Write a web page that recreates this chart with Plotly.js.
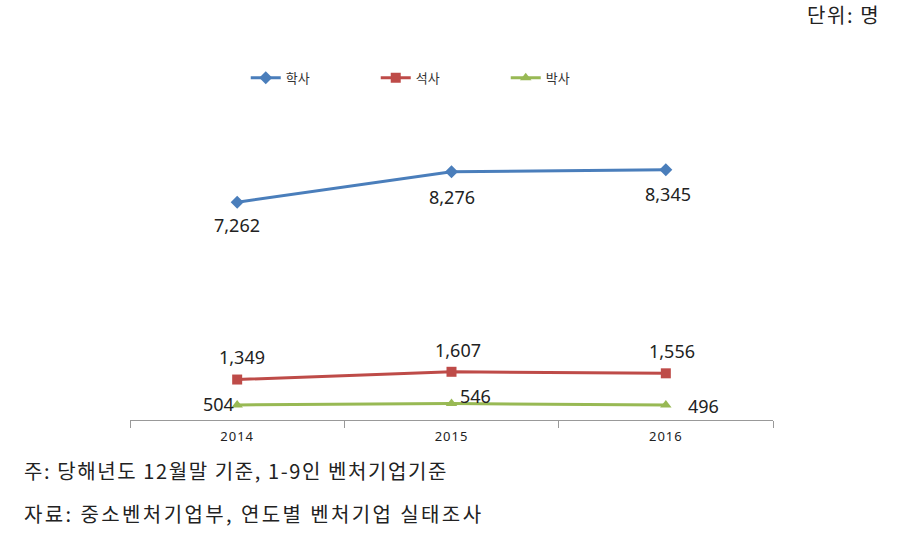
<!DOCTYPE html>
<html>
<head>
<meta charset="utf-8">
<script src="https://cdn.plot.ly/plotly-3.0.1.min.js"></script>
<style>
  html, body { margin: 0; padding: 0; background: #fff; }
  #chart { width: 913px; height: 540px; }
  .xtick text { letter-spacing: 1px; }
</style>
</head>
<body>
<div id="chart"></div>
<script>
const years = ['2014', '2015', '2016'];
const bachelor = [7262, 8276, 8345];
const master = [1349, 1607, 1556];
const doctor = [504, 546, 496];

const fmt = v => v.toLocaleString('en-US');
const labelFont = { family: 'Noto Sans, sans-serif', size: 18, color: '#222' };
const noteFont = { family: 'Noto Sans CJK KR, sans-serif', size: 20, color: '#222' };

const data = [
    {
        x: years, y: bachelor, name: '학사',
        type: 'scatter', mode: 'lines+markers',
        line: { color: '#4A7EBB', width: 3 },
        marker: { symbol: 'diamond', size: 10, color: '#4A7EBB' },
        cliponaxis: false,
    },
    {
        x: years, y: master, name: '석사',
        type: 'scatter', mode: 'lines+markers',
        line: { color: '#BE4B48', width: 3 },
        marker: { symbol: 'square', size: 10, color: '#BE4B48' },
        cliponaxis: false,
    },
    {
        x: years, y: doctor, name: '박사',
        type: 'scatter', mode: 'lines+markers',
        line: { color: '#98B954', width: 3 },
        marker: { symbol: 'triangle-up', size: 10, color: '#98B954' },
        cliponaxis: false,
    },
];

// value labels, placed around each point (x is the category index,
// since year strings would be read as numbers)
function labels(values, spots) {
    return values.map((v, i) => ({
        xref: 'x', yref: 'y', x: i, y: v, text: fmt(v), showarrow: false,
        xanchor: spots[i][0], yanchor: 'middle', xshift: spots[i][1], yshift: spots[i][2],
        font: labelFont,
    }));
}
const valueLabels = [].concat(
    labels(bachelor, [['center', 0, -23], ['center', 0, -25], ['center', 2, -24]]),
    labels(master, [['center', 5, 23], ['center', 6, 22], ['center', 6, 22]]),
    labels(doctor, [['right', -1, 1], ['left', 6, 8], ['left', 20, -1]])
);

const notes = [
    { text: '단위: 명', xref: 'paper', yref: 'paper', x: 1.17, y: 1.35,
      xanchor: 'right', yanchor: 'middle', showarrow: false, font: noteFont },
    { text: '주: 당해년도 12월말 기준, 1-9인 벤처기업기준', xref: 'paper', yref: 'paper',
      x: -0.168, y: -0.167, xanchor: 'left', yanchor: 'middle', showarrow: false, font: noteFont },
    { text: '자료: 중소벤처기업부, 연도별 벤처기업 실태조사', xref: 'paper', yref: 'paper',
      x: -0.168, y: -0.313, xanchor: 'left', yanchor: 'middle', showarrow: false, font: noteFont },
];

const layout = {
    width: 913, height: 540,
    margin: { l: 130, r: 140, t: 120, b: 120 },
    paper_bgcolor: '#fff', plot_bgcolor: '#fff',
    showlegend: true,
    legend: {
        orientation: 'h', x: 0.18, xanchor: 'left', y: 0.856, yanchor: 'middle',
        yref: 'container',
        font: { family: 'Noto Sans CJK KR, sans-serif', size: 13, color: '#333' },
        entrywidth: 85, itemwidth: 30,
    },
    xaxis: {
        type: 'category', range: [-0.5, 2.5],
        showline: true, linecolor: '#999', linewidth: 1,
        ticks: 'outside', tickson: 'boundaries', ticklen: 7, tickcolor: '#999',
        ticklabelstandoff: 4,
        showgrid: false, zeroline: false,
        tickfont: { family: 'Noto Sans, sans-serif', size: 13, color: '#222' },
    },
    yaxis: {
        range: [0, 10000], visible: false, showgrid: false, zeroline: false,
    },
    annotations: valueLabels.concat(notes),
};

Plotly.newPlot('chart', data, layout, { displayModeBar: false, staticPlot: true }).then(() => {
    // widen the Korean notes like the original document font, keeping their anchor edge
    document.querySelectorAll('g.annotation text.annotation-text').forEach(t => {
        if (!/[가-힣]/.test(t.textContent)) return;
        const b = t.getBBox();
        const right = t.textContent.startsWith('단위');
        t.style.letterSpacing = t.textContent.startsWith('자료') ? '2.4px' : '1.6px';
        t.setAttribute('text-anchor', right ? 'end' : 'start');
        t.setAttribute('x', right ? b.x + b.width : b.x);
    });
});
</script>
</body>
</html>
